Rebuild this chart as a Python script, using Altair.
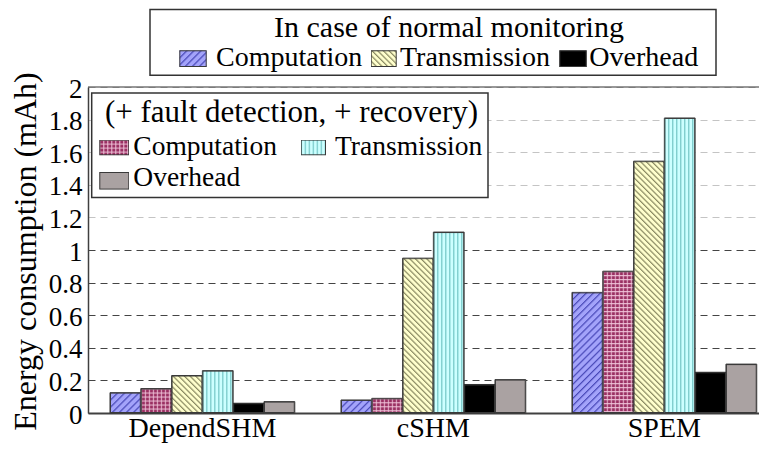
import base64
import altair as alt
import pandas as pd

# ---------------- data ----------------
systems = ["DependSHM", "cSHM", "SPEM"]
series_keys = ["comp_normal", "comp_fault", "trans_normal", "trans_fault", "over_normal", "over_fault"]
normal_computation = [0.125, 0.08, 0.74]
fault_computation = [0.15, 0.09, 0.87]
normal_transmission = [0.23, 0.95, 1.545]
fault_transmission = [0.26, 1.11, 1.81]
normal_overhead = [0.06, 0.175, 0.25]
fault_overhead = [0.07, 0.205, 0.30]
y_ticks = [0, 0.2, 0.4, 0.6, 0.8, 1, 1.2, 1.4, 1.6, 1.8, 2]
legend_labels = ["Computation", "Transmission", "Overhead"]
legend1_title = "In case of normal  monitoring"
legend2_title = "(+ fault detection, + recovery)"
y_title = "Energy consumption (mAh)"

values_by_series = [normal_computation, fault_computation, normal_transmission,
                    fault_transmission, normal_overhead, fault_overhead]

# ---------------- styles ----------------
FONT = "Liberation Serif"
BORDER = "#3a3a3a"


def tile(defs_body, fill_ref):
    svg = ('<svg xmlns="http://www.w3.org/2000/svg" width="100%" height="100%">'
           '<defs>' + defs_body + '</defs>'
           '<rect x="0" y="0" width="100%" height="100%" fill="' + fill_ref + '" '
           'stroke="' + BORDER + '" stroke-width="2"/></svg>')
    return "data:image/svg+xml;base64," + base64.b64encode(svg.encode()).decode()


def diag(base, line, period, angle):
    return tile(
        '<pattern id="p" patternUnits="userSpaceOnUse" width="%d" height="%d" '
        'patternTransform="rotate(%d)"><rect width="%d" height="%d" fill="%s"/>'
        '<rect x="0" y="0" width="1.2" height="%d" fill="%s"/></pattern>'
        % (period, period, angle, period, period, base, period, line), "url(#p)")


def plaid(base, line, period):
    return tile(
        '<pattern id="p" patternUnits="userSpaceOnUse" width="%d" height="%d">'
        '<rect width="%d" height="%d" fill="%s"/>'
        '<rect x="0" y="0" width="1" height="%d" fill="%s"/>'
        '<rect x="0" y="0" width="%d" height="1" fill="%s"/></pattern>'
        % (period, period, period, period, base, period, line, period, line), "url(#p)")


def vstripes(base, line, period):
    return tile(
        '<pattern id="p" patternUnits="userSpaceOnUse" width="%d" height="%d">'
        '<rect width="%d" height="%d" fill="%s"/>'
        '<rect x="0" y="0" width="1" height="%d" fill="%s"/></pattern>'
        % (period, period, period, period, base, period, line), "url(#p)")


def solid(color):
    return tile('', color)


style = {
    "comp_normal": (diag("#a3a3fa", "#4848b8", 5, 45), "#8f8fee"),
    "comp_fault": (plaid("#9a2f62", "#f0c4da", 4), "#b0507c"),
    "trans_normal": (diag("#ffffcc", "#8a8a62", 4, -45), "#eeeebb"),
    "trans_fault": (vstripes("#ccffff", "#5eb8b8", 4), "#b5eeee"),
    "over_normal": (solid("#000000"), "#000000"),
    "over_fault": (solid("#aaa2a2"), "#aaa2a2"),
}

rows = []
for key, vals in zip(series_keys, values_by_series):
    for sysname, v in zip(systems, vals):
        rows.append({"system": sysname, "series": key, "value": v,
                     "url": style[key][0], "fallback": style[key][1]})
df = pd.DataFrame(rows)

x_enc = alt.X("system:N", sort=systems,
              scale=alt.Scale(paddingInner=0.2, paddingOuter=0.0525, align=0.907),
              axis=alt.Axis(title=None, labelAngle=0, labelFont=FONT, labelFontSize=28,
                            labelColor="black", labelPadding=1, ticks=False,
                            labelOverlap=False,
                            domainColor="#404040", domainWidth=2, grid=False))
xo_enc = alt.XOffset("series:N", sort=series_keys,
                     scale=alt.Scale(paddingInner=0, paddingOuter=0))
y_enc = alt.Y("value:Q", stack=None,
              scale=alt.Scale(domain=[0, 2], nice=False, zero=True),
              axis=alt.Axis(values=y_ticks, tickCount=len(y_ticks), format="~g", title=y_title,
                            titleFont=FONT, titleFontSize=32, titleFontWeight="normal",
                            titleColor="black", titleAngle=270, titleX=-53, titleY=164,
                            titleAlign="center", titleBaseline="alphabetic",
                            labelFont=FONT, labelFontSize=27, labelColor="black",
                            labelPadding=6, labelOffset=2, ticks=False,
                            labelOverlap=False, labelFlush=False,
                            domainColor="#404040", domainWidth=1.5,
                            grid=True,
                            gridColor={"condition": {"test": "datum.value > 1.1", "value": "#c4c4c4"},
                                       "value": "#444444"},
                            gridDash=[7, 5], gridWidth=1))

base = alt.Chart(df)
fallback = base.mark_bar(stroke=BORDER, strokeWidth=1).encode(
    x=x_enc, xOffset=xo_enc, y=y_enc,
    fill=alt.Fill("fallback:N", scale=None))
patterned = base.mark_image(aspect=False).encode(
    x=alt.X("system:N", sort=systems), xOffset=alt.XOffset("series:N", sort=series_keys),
    y=alt.Y("value:Q", stack=None), url="url:N")
top_frame = alt.Chart(pd.DataFrame({"k": [0]})).mark_rule(color="#333333", strokeWidth=1.2).encode(
    y=alt.datum(2))

# ---------------- custom legends (pixel layout, relative to plot origin) ----------------
one = pd.DataFrame({"k": [0]})
layers = [fallback, patterned, top_frame]


def box(x1, x2, y1, y2):
    return alt.Chart(one).mark_rect(fill="white", stroke="#333333", strokeWidth=1.5).encode(
        x=alt.value(x1), x2=alt.value(x2), y=alt.value(y1), y2=alt.value(y2))


def swatch(uri, x1, x2, y1, y2):
    return alt.Chart(one).mark_image(aspect=False).encode(
        x=alt.value(x1), x2=alt.value(x2), y=alt.value(y1), y2=alt.value(y2), url=alt.value(uri))


def label(txt, x, y, size, align="left"):
    return alt.Chart(one).mark_text(font=FONT, fontSize=size, color="black", align=align,
                                    baseline="alphabetic").encode(
        x=alt.value(x), y=alt.value(y), text=alt.value(txt))


# legend 1: normal monitoring
layers.append(box(62, 628, -77.5, -11.7))
layers.append(label(legend1_title, 361, -50, 30, align="center"))
leg1 = [("comp_normal", 91.3, 118.7, 128), ("trans_normal", 282.7, 308.7, 312),
        ("over_normal", 471.3, 498.7, 501.3)]
for (key, sx1, sx2, tx), txt in zip(leg1, legend_labels):
    layers.append(swatch(style[key][0], sx1, sx2, -36.7, -20))
    layers.append(label(txt, tx, -21, 28))

# legend 2: fault detection + recovery
layers.append(box(3.7, 400, 6, 110.6))
layers.append(label(legend2_title, 203.5, 35.3, 31, align="center"))
leg2 = [("comp_fault", 11.3, 41.3, 45.3, 52.6, 68.3, 68.3),
        ("trans_fault", 212.7, 238, 247, 52.6, 68.3, 68.3),
        ("over_fault", 11.3, 41.3, 45.3, 85, 102.6, 99.3)]
for (key, sx1, sx2, tx, sy1, sy2, ty), txt in zip(leg2, legend_labels):
    layers.append(swatch(style[key][0], sx1, sx2, sy1, sy2))
    layers.append(label(txt, tx, ty, 27.5))

chart = alt.layer(*layers).properties(
    width=671, height=326,
    autosize=alt.AutoSizeParams(type="none"),
    padding={"left": 80, "top": 79, "right": 0, "bottom": 30},
    background="white",
).configure_view(stroke=None)

chart.save("out.html", embed_options={"renderer": "svg", "actions": False})
